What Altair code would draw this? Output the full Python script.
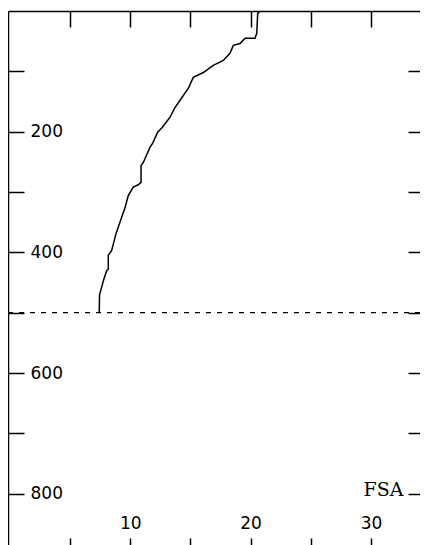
import altair as alt
import pandas as pd

# profile values
fsa = [7.43, 7.45, 7.77, 8.05, 8.18, 8.18, 8.46, 8.82, 9.29, 9.57, 9.84, 10.26, 10.67,
       10.90, 10.90, 11.09, 11.64, 11.87, 12.28, 12.62, 13.31, 13.72, 14.14, 14.83,
       15.24, 16.07, 16.90, 17.73, 18.29, 18.56, 19.12, 19.54, 20.36, 20.51, 20.59, 20.78]
level = [500, 471, 447, 430, 428, 405, 397, 369, 342, 326, 306, 292, 288,
         284, 256, 251, 226, 219, 201, 194, 176, 160, 148, 128,
         110, 102, 90, 82, 70, 57, 54, 45, 45, 37, 4, 0]
dash_level = [500]
x_ticks = [5, 10, 15, 20, 25, 30]
y_ticks = [100, 200, 300, 400, 500, 600, 700, 800]

df = pd.DataFrame({"FSA": fsa, "level": level, "order": list(range(len(fsa)))})
df_rule = pd.DataFrame({"level": dash_level})

xs = alt.Scale(domain=[-0.15, 34.07], nice=False, zero=False)
ys = alt.Scale(domain=[0, 900], reverse=True, nice=False, zero=False)

LABEL_FONT = "DejaVu Sans"

line = alt.Chart(df).mark_line(color="black", strokeWidth=1.5).encode(
    x=alt.X("FSA:Q", scale=xs, axis=alt.Axis(
        orient="top", values=x_ticks, offset=-16, tickSize=16, domain=False,
        labels=False, title=None, grid=False, tickColor="black", tickWidth=1.5)),
    y=alt.Y("level:Q", scale=ys, axis=alt.Axis(
        orient="left", values=y_ticks, offset=-16, tickSize=16, domain=False,
        labelExpr="datum.value % 200 == 0 ? datum.label : ''",
        labelAlign="left", labelPadding=-22, labelFont=LABEL_FONT, labelFontSize=17,
        labelColor="black", title=None, grid=False, tickColor="black", tickWidth=1.5)),
    order="order:Q",
)

ticks_axes = alt.Chart(df).mark_point(opacity=0).encode(
    x=alt.X("FSA:Q", scale=xs, axis=alt.Axis(
        orient="bottom", values=x_ticks, offset=-16, tickSize=16, domain=False,
        labelExpr="datum.value % 10 == 0 ? datum.label : ''",
        labelPadding=-25.7, labelBaseline="alphabetic", labelFont=LABEL_FONT,
        labelFontSize=17, labelColor="black", title=None, grid=False,
        tickColor="black", tickWidth=1.5)),
    y=alt.Y("level:Q", scale=ys, axis=alt.Axis(
        orient="right", values=y_ticks, offset=-12, tickSize=12, domain=False,
        labels=False, title="FSA", titleAngle=0, titleAlign="right",
        titleBaseline="alphabetic", titleX=-5, titleY=484,
        titleFont="DejaVu Serif", titleFontSize=19, titleFontWeight="normal",
        titleColor="black", grid=False, tickColor="black", tickWidth=1.5)),
)

frame_axes = alt.Chart(df).mark_point(opacity=0).encode(
    x=alt.X("FSA:Q", scale=xs, axis=alt.Axis(
        orient="top", offset=0, domain=True, domainColor="black", domainWidth=1.5,
        ticks=False, labels=False, title=None, grid=False)),
    y=alt.Y("level:Q", scale=ys, axis=alt.Axis(
        orient="left", offset=0, domain=True, domainColor="black", domainWidth=1.5,
        ticks=False, labels=False, title=None, grid=False)),
)

rule = alt.Chart(df_rule).mark_rule(color="black", strokeDash=[5, 6], strokeWidth=1.2).encode(
    y=alt.Y("level:Q", scale=ys, axis=None),
)

chart = alt.layer(line, ticks_axes, frame_axes, rule).resolve_axis(
    x="independent", y="independent"
).properties(
    width=412, height=543,
    background="white",
    autosize=alt.AutoSizeParams(type="none"),
    padding={"left": 0, "top": 3, "right": 0, "bottom": -9},
).configure_view(stroke=None)

chart.save("out.html", embed_options={"renderer": "svg", "actions": False})
